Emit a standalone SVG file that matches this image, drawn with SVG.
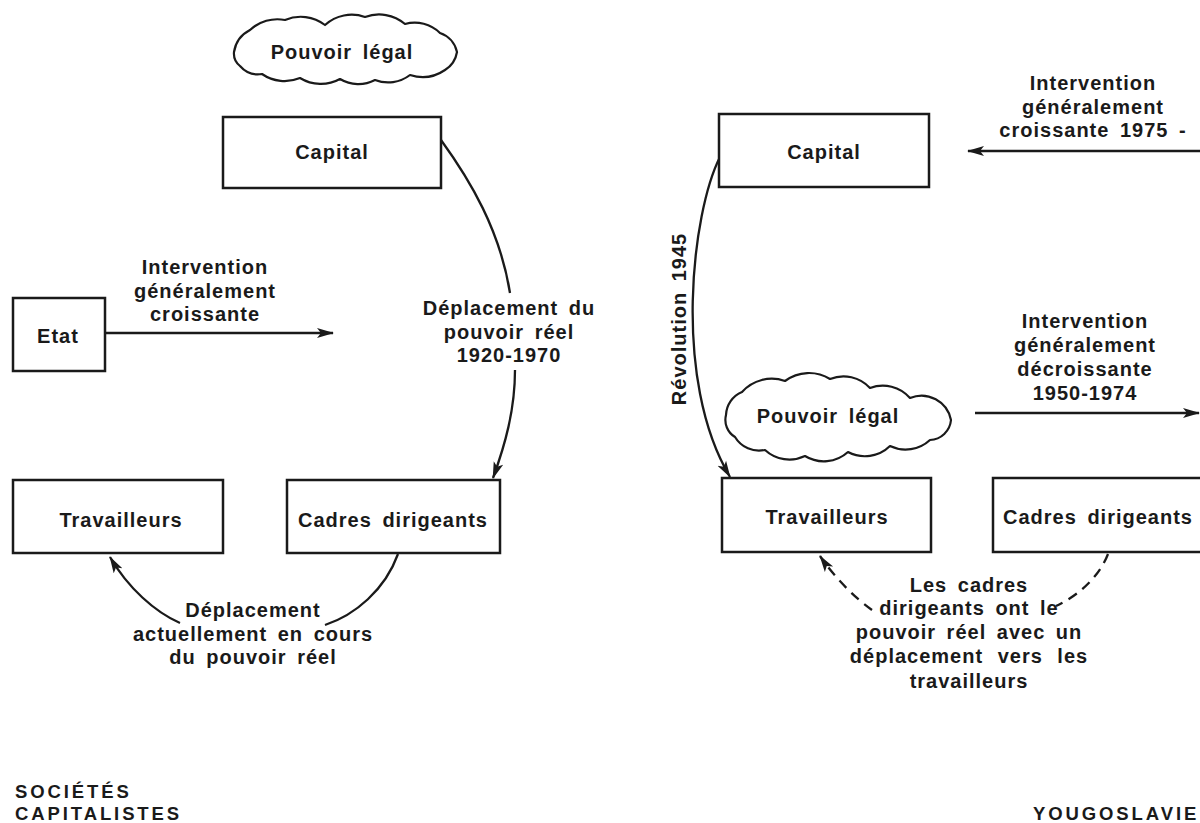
<svg xmlns="http://www.w3.org/2000/svg" width="1200" height="823" viewBox="0 0 1200 823">
<style>
.bg{fill:#fff}
.box{fill:#fff;stroke:#1a1a1a;stroke-width:2.5}
.cloud{fill:#fff;stroke:#1a1a1a;stroke-width:2.2;stroke-linejoin:round}
.t{font-family:"Liberation Sans",Arial,sans-serif;font-weight:bold;font-size:20px;letter-spacing:1px;word-spacing:4px;fill:#1a1a1a;text-anchor:middle}
.big{font-family:"Liberation Sans",Arial,sans-serif;font-weight:bold;font-size:18.5px;letter-spacing:2.9px;fill:#1a1a1a}
.ln{fill:none;stroke:#1a1a1a;stroke-width:2.3}
.dash{stroke-dasharray:10 7}
</style>
<defs>
<marker id="ah" markerUnits="userSpaceOnUse" markerWidth="18" markerHeight="12" refX="16" refY="6" orient="auto">
<path d="M0,1 L17,6 L0,11 L4,6 z" fill="#1a1a1a"/>
</marker>
</defs>
<rect class="bg" x="0" y="0" width="1200" height="823"/>

<g id="connectors">
<path class="ln" d="M441,140 C470,180 500,230 510,293"/>
<path class="ln" d="M515,370 C515,410 505,445 493,478" marker-end="url(#ah)"/>
<path class="ln" d="M105,333 L333,333" marker-end="url(#ah)"/>
<path class="ln" d="M398,554 C385,590 355,615 325,625"/>
<path class="ln" d="M180,623 C155,612 128,588 110,557" marker-end="url(#ah)"/>
<path class="ln" d="M720,157 C692,212 672,380 730,477" marker-end="url(#ah)"/>
<path class="ln" d="M1200,151 L968,151" marker-end="url(#ah)"/>
<path class="ln" d="M975,413 L1199,413" marker-end="url(#ah)"/>
<path class="ln dash" d="M1108,554 C1100,575 1080,595 1056,606"/>
<path class="ln dash" d="M872,610 C855,598 835,578 820,556" marker-end="url(#ah)"/>
</g>

<g id="left-cloud">
<path class="cloud" d="M234,52 A30,30 0 0 1 250,30 A40,40 0 0 1 285,20 A40,40 0 0 1 325,25 A40,40 0 0 1 365,17 A40,40 0 0 1 405,24 A36,36 0 0 1 440,33 A26,26 0 0 1 457,52 A26,26 0 0 1 445,70 A40,40 0 0 1 410,75 A36,36 0 0 1 375,80 A36,36 0 0 1 340,79 A40,40 0 0 1 300,78 A40,40 0 0 1 262,74 A24,24 0 0 1 240,66 A16,16 0 0 1 234,52 z"/>
<text class="t" x="342" y="59">Pouvoir légal</text>
</g>
<g id="left-capital">
<rect class="box" x="223" y="117" width="218" height="71"/>
<text class="t" x="332" y="159">Capital</text>
</g>
<g id="left-etat">
<rect class="box" x="13" y="298" width="92" height="73"/>
<text class="t" x="58" y="343">Etat</text>
</g>
<g id="left-travailleurs">
<rect class="box" x="13" y="480" width="210" height="73"/>
<text class="t" x="121" y="527">Travailleurs</text>
</g>
<g id="left-cadres">
<rect class="box" x="287" y="480" width="213" height="73"/>
<text class="t" x="393" y="527">Cadres dirigeants</text>
</g>

<g id="left-labels">
<text class="t" x="205" y="274">Intervention</text>
<text class="t" x="205" y="297.5">généralement</text>
<text class="t" x="205" y="321">croissante</text>
<text class="t" x="509" y="315">Déplacement du</text>
<text class="t" x="509" y="338.5">pouvoir réel</text>
<text class="t" x="509" y="362">1920-1970</text>
<text class="t" x="253" y="617">Déplacement</text>
<text class="t" x="253" y="641">actuellement en cours</text>
<text class="t" x="253" y="664">du pouvoir réel</text>
</g>

<g id="right-capital">
<rect class="box" x="719" y="114" width="210" height="73"/>
<text class="t" x="824" y="159">Capital</text>
</g>
<g id="right-cloud">
<path class="cloud" d="M726,415 A26,26 0 0 1 742,392 A40,40 0 0 1 785,381 A40,40 0 0 1 830,379 A36,36 0 0 1 870,388 A36,36 0 0 1 910,398 A30,30 0 0 1 951,420 A22,22 0 0 1 930,440 A36,36 0 0 1 890,446 A36,36 0 0 1 848,452 A36,36 0 0 1 805,456 A36,36 0 0 1 765,450 A28,28 0 0 1 735,437 A20,20 0 0 1 726,415 z"/>
<text class="t" x="828" y="423">Pouvoir légal</text>
</g>
<g id="right-travailleurs">
<rect class="box" x="722" y="478" width="209" height="74"/>
<text class="t" x="827" y="524">Travailleurs</text>
</g>
<g id="right-cadres">
<rect class="box" x="993" y="478" width="215" height="74"/>
<text class="t" x="1098" y="524">Cadres dirigeants</text>
</g>

<g id="right-labels">
<text class="t" x="1093" y="90">Intervention</text>
<text class="t" x="1093" y="113.5">généralement</text>
<text class="t" x="1093" y="137">croissante 1975 -</text>
<text class="t" transform="translate(686,319) rotate(-90)">Révolution 1945</text>
<text class="t" x="1085" y="328">Intervention</text>
<text class="t" x="1085" y="352">généralement</text>
<text class="t" x="1085" y="376">décroissante</text>
<text class="t" x="1085" y="400">1950-1974</text>
<text class="t" x="969" y="592">Les cadres</text>
<text class="t" x="969" y="615">dirigeants ont le</text>
<text class="t" x="969" y="639">pouvoir réel avec un</text>
<text class="t" x="969" y="663" style="word-spacing:8px">déplacement vers les</text>
<text class="t" x="969" y="688">travailleurs</text>
</g>

<g id="captions">
<text class="big" x="15" y="798">SOCIÉTÉS</text>
<text class="big" x="15" y="820">CAPITALISTES</text>
<text class="big" x="1033" y="820">YOUGOSLAVIE</text>
</g>
</svg>
